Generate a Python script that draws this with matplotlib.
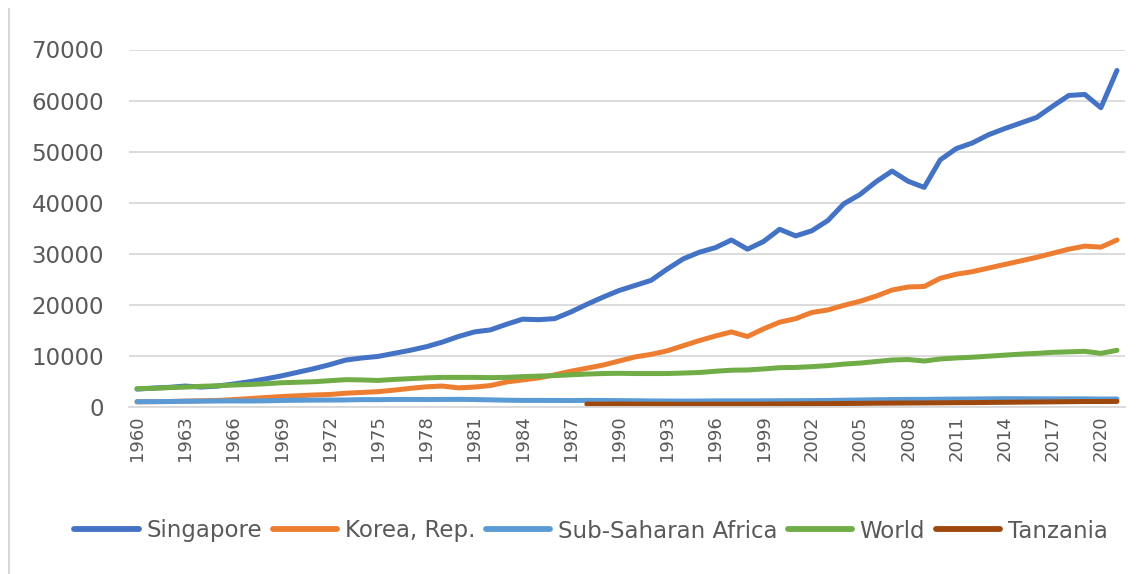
#!/usr/bin/env python3
# -*- coding: utf-8 -*-
"""GDP per capita: Singapore, Korea, Sub-Saharan Africa, World, Tanzania (1960-2021)"""

import numpy as np
import matplotlib
matplotlib.use("Agg")
import matplotlib.pyplot as plt
from matplotlib.lines import Line2D

years = list(range(1960, 2022))

singapore = [
    3500, 3700, 3850, 4100, 3900, 4100, 4500, 4950, 5500, 6100,
    6800, 7500, 8300, 9200, 9600, 9900, 10500, 11100, 11800, 12700,
    13800, 14700, 15100, 16200, 17200, 17100, 17300, 18600, 20100, 21500,
    22800, 23800, 24800, 27000, 29000, 30300, 31200, 32700, 30900, 32400,
    34800, 33500, 34500, 36500, 39800, 41600, 44100, 46200, 44200, 43000,
    48400, 50600, 51700, 53300, 54500, 55600, 56700, 58900, 61000, 61200,
    58600, 65900,
]
korea = [
    1000, 1050, 1080, 1150, 1220, 1280, 1450, 1650, 1850, 2050,
    2200, 2350, 2450, 2700, 2850, 3000, 3300, 3650, 3950, 4100,
    3750, 3900, 4200, 4900, 5300, 5700, 6300, 7000, 7600, 8200,
    9000, 9800, 10300, 11000, 12000, 13000, 13900, 14700, 13800, 15300,
    16600, 17300, 18500, 19000, 19900, 20700, 21700, 22900, 23500, 23600,
    25200, 26000, 26500, 27200, 27900, 28600, 29300, 30100, 30900, 31500,
    31300, 32700,
]
ssa = [
    1050, 1050, 1070, 1120, 1150, 1180, 1190, 1180, 1210, 1280,
    1320, 1350, 1360, 1380, 1450, 1440, 1480, 1480, 1460, 1480,
    1500, 1460, 1400, 1330, 1290, 1290, 1280, 1270, 1290, 1280,
    1250, 1230, 1190, 1170, 1160, 1170, 1200, 1210, 1210, 1210,
    1230, 1240, 1260, 1280, 1330, 1370, 1420, 1460, 1490, 1490,
    1530, 1550, 1570, 1600, 1630, 1620, 1600, 1600, 1600, 1600,
    1550, 1570,
]
world = [
    3600, 3650, 3800, 3900, 4050, 4150, 4300, 4400, 4550, 4750,
    4850, 4950, 5150, 5350, 5300, 5200, 5400, 5550, 5700, 5800,
    5800, 5800, 5750, 5800, 5950, 6050, 6150, 6300, 6450, 6550,
    6600, 6550, 6550, 6550, 6650, 6750, 7000, 7200, 7250, 7450,
    7700, 7750, 7900, 8100, 8400, 8600, 8900, 9200, 9300, 9000,
    9400, 9600, 9750, 9950, 10150, 10350, 10500, 10700, 10800, 10900,
    10500, 11100,
]
# Tanzania series starts in 1988
tanzania_years = list(range(1988, 2022))
tanzania = [
    570, 570, 580, 570, 560, 550, 540, 540, 550, 550,
    560, 570, 590, 610, 640, 660, 690, 710, 740, 760,
    780, 800, 820, 850, 860, 890, 920, 950, 980, 1010,
    1040, 1070, 1070, 1090,
]

series_names = ["Singapore", "Korea, Rep.", "Sub-Saharan Africa", "World", "Tanzania"]
colors = ["#4472C4", "#ED7D31", "#5B9BD5", "#70AD47", "#9E480E"]
yticks = list(range(0, 70001, 10000))
xticks = list(range(1960, 2021, 3))

W, H = 1147, 574
fig = plt.figure(figsize=(W / 100, H / 100), dpi=100)
ax = fig.add_axes([129 / W, 1 - 407 / H, (1125 - 129) / W, (407 - 49.5) / H])

lw = 3.6
data = [(years, singapore), (years, korea), (years, ssa), (years, world),
        (tanzania_years, tanzania)]
for (xs, ys), name, c in zip(data, series_names, colors):
    ax.plot(xs, ys, color=c, lw=lw, label=name, solid_capstyle="round",
            solid_joinstyle="round", clip_on=False)

ax.set_xlim(1959.5, 2021.5)
ax.set_ylim(0, 70000)
ax.set_yticks(yticks)
ax.set_yticklabels([str(v) for v in yticks])
ax.set_xticks(xticks)
ax.set_xticklabels([str(v) for v in xticks], rotation=90)

ax.grid(axis="y", color="#D9D9D9", lw=1.3)
ax.set_axisbelow(True)
for s in ["top", "right", "left"]:
    ax.spines[s].set_visible(False)
ax.spines["bottom"].set_color("#D9D9D9")
ax.spines["bottom"].set_linewidth(1.3)

ax.tick_params(axis="y", length=0, pad=18, labelsize=16.5, labelcolor="#595959")
ax.tick_params(axis="x", length=0, pad=6, labelsize=13, labelcolor="#595959")

leg = fig.legend(
    loc="center", bbox_to_anchor=(591 / W, 1 - 531 / H), ncol=5, frameon=False,
    fontsize=16.5, handlelength=2.8, handletextpad=0.35, columnspacing=0.45,
)
for t in leg.get_texts():
    t.set_color("#595959")
for h in leg.get_lines():
    h.set_linewidth(4.2)

# 左侧边框线
fig.add_artist(Line2D([9 / W, 9 / W], [1 - 9 / H, 0], color="#D9D9D9", lw=1.5))

fig.savefig("out.png", dpi=100)
